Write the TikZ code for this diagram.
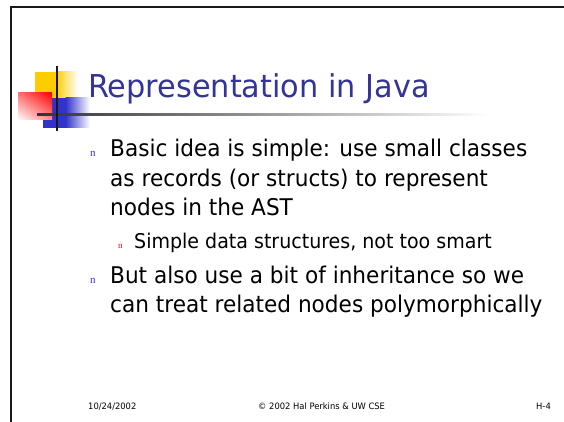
\documentclass[tikz,border=0pt]{standalone}
\usepackage{fontspec}
\usetikzlibrary{shadings}
\setmainfont[FakeStretch=0.94]{DejaVu Sans}
\newfontfamily\titlefont[FakeStretch=0.963]{DejaVu Sans}
\newfontfamily\subfont[FakeStretch=0.937]{DejaVu Sans}
\newfontfamily\footfont[FakeStretch=0.95]{DejaVu Sans}
\newfontfamily\bulfont{Liberation Serif}
\definecolor{titleblue}{RGB}{51,51,153}
\definecolor{bulblue}{RGB}{51,51,204}
\definecolor{logoyellow}{RGB}{255,204,0}
\definecolor{logoblue}{RGB}{51,51,204}
\definecolor{txt}{RGB}{0,0,0}
\begin{document}
\begin{tikzpicture}[x=1pt,y=-1pt,
  titletext/.style={anchor=base west,inner sep=0pt,font=\titlefont\fontsize{31.5}{36}\selectfont,text=titleblue},
  bodytext/.style={anchor=base west,inner sep=0pt,font=\fontsize{23}{28}\selectfont,text=txt},
  subtext/.style={anchor=base west,inner sep=0pt,font=\subfont\fontsize{20.3}{24}\selectfont,text=txt},
  mainbul/.style={anchor=base west,inner sep=0pt,font=\bulfont\fontsize{11}{12}\selectfont,text=bulblue},
  subbul/.style={anchor=base west,inner sep=0pt,font=\bulfont\fontsize{9}{10}\selectfont,text=red},
  foot/.style={anchor=base west,inner sep=0pt,font=\footfont\fontsize{8.8}{10}\selectfont,text=txt},
  frameline/.style={line width=2pt,draw=black!90}]
\useasboundingbox (0,0) rectangle (564,422);
% frame
\draw[frameline] (11,422) -- (11,7.5) -- (564,7.5);
% logo
\fill[logoyellow] (35,72) rectangle (56,98);
\shade[left color=logoyellow,right color=white] (55.5,72) rectangle (78,98);
\fill[logoblue] (43,98) rectangle (66,128);
\shade[left color=logoblue,right color=white] (65.5,98) rectangle (90,128);
\shade[upper left=red!55, upper right=red, lower left=white, lower right=red!45] (18,93) rectangle (52,120);
\shade[left color=black!80,right color=white,draw=none] (37,113.8) rectangle (490,116);
\draw[line width=1.5pt,black!90] (57,66) -- (57,131);
% title
\node[titletext] (title) at (88,98) {Representation in Java};
% bullets
\node[mainbul] (b1) at (90,157) {n};
\node[bodytext] (l1) at (110,157) {Basic idea is simple: use small classes};
\node[bodytext] (l2) at (110,186) {as records (or structs) to represent};
\node[bodytext] (l3) at (110,215) {nodes in the AST};
\node[subbul] (b2) at (118,248) {n};
\node[subtext] (l4) at (134,248) {Simple data structures, not too smart};
\node[mainbul] (b3) at (90,283) {n};
\node[bodytext] (l5) at (110,283) {But also use a bit of inheritance so we};
\node[bodytext] (l6) at (110,312) {can treat related nodes polymorphically};
% footer
\node[foot] (date) at (88,409) {10/24/2002};
\node[foot] (copy) at (258,409) {© 2002 Hal Perkins \& UW CSE};
\node[foot] (page) at (536,409) {H-4};
\end{tikzpicture}
\end{document}
